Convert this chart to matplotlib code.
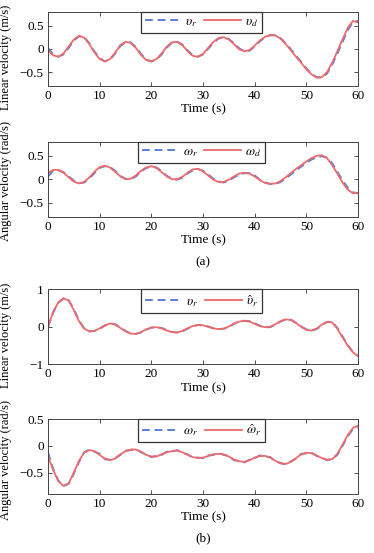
import numpy as np
import matplotlib
matplotlib.use('Agg')
from matplotlib import pyplot as plt

plt.rcParams['font.family'] = ['Liberation Serif', 'DejaVu Serif']
plt.rcParams['mathtext.fontset'] = 'stix'
plt.rcParams['axes.unicode_minus'] = True

t = np.arange(0, 61)

# (a) linear velocity
vd = [-0.03, -0.14, -0.17, -0.10, 0.05, 0.20, 0.28, 0.24, 0.10, -0.08,
      -0.22, -0.27, -0.22, -0.08, 0.08, 0.15, 0.13, 0.02, -0.13, -0.24,
      -0.27, -0.22, -0.10, 0.05, 0.14, 0.15, 0.08, -0.05, -0.15, -0.17,
      -0.11, 0.02, 0.15, 0.23, 0.25, 0.20, 0.10, -0.01, -0.05, -0.03,
      0.07, 0.18, 0.26, 0.30, 0.29, 0.22, 0.10, -0.03, -0.17, -0.30,
      -0.44, -0.55, -0.62, -0.61, -0.50, -0.30, -0.05, 0.20, 0.45, 0.60, 0.57]
vr = [0.02, -0.12, -0.17, -0.12, 0.02, 0.18, 0.27, 0.25, 0.12, -0.06,
      -0.20, -0.27, -0.23, -0.10, 0.06, 0.14, 0.14, 0.04, -0.11, -0.23,
      -0.27, -0.23, -0.12, 0.03, 0.13, 0.15, 0.09, -0.03, -0.14, -0.17,
      -0.12, 0.00, 0.13, 0.22, 0.25, 0.21, 0.12, 0.01, -0.05, -0.04,
      0.05, 0.16, 0.25, 0.29, 0.29, 0.23, 0.12, -0.01, -0.15, -0.28,
      -0.42, -0.54, -0.61, -0.62, -0.53, -0.34, -0.10, 0.15, 0.40, 0.58, 0.60]

# (a) angular velocity
wd = [0.13, 0.20, 0.20, 0.14, 0.04, -0.05, -0.09, -0.06, 0.04, 0.16,
      0.26, 0.29, 0.25, 0.16, 0.06, 0.00, 0.01, 0.08, 0.18, 0.25,
      0.28, 0.24, 0.15, 0.06, 0.00, 0.00, 0.05, 0.14, 0.21, 0.22,
      0.17, 0.08, -0.01, -0.06, -0.06, -0.01, 0.06, 0.12, 0.14, 0.12,
      0.06, -0.02, -0.08, -0.10, -0.09, -0.04, 0.04, 0.13, 0.22, 0.30,
      0.38, 0.45, 0.50, 0.51, 0.45, 0.30, 0.12, -0.07, -0.22, -0.30, -0.29]
wr = [0.06, 0.18, 0.19, 0.15, 0.06, -0.03, -0.08, -0.07, 0.02, 0.13,
      0.24, 0.28, 0.26, 0.18, 0.07, 0.01, 0.00, 0.06, 0.16, 0.24,
      0.27, 0.25, 0.17, 0.07, 0.01, -0.01, 0.03, 0.12, 0.19, 0.22,
      0.18, 0.10, 0.01, -0.05, -0.07, -0.03, 0.04, 0.10, 0.13, 0.13,
      0.08, -0.01, -0.07, -0.10, -0.10, -0.06, 0.02, 0.10, 0.19, 0.27,
      0.35, 0.42, 0.47, 0.49, 0.46, 0.34, 0.16, -0.03, -0.18, -0.28, -0.30]

# (b) linear velocity
vhat = [0.00, 0.40, 0.65, 0.76, 0.70, 0.45, 0.15, -0.05, -0.12, -0.11,
        -0.04, 0.04, 0.09, 0.06, -0.03, -0.12, -0.18, -0.19, -0.14, -0.07,
        -0.02, -0.01, -0.04, -0.10, -0.14, -0.15, -0.11, -0.04, 0.02, 0.05,
        0.04, 0.00, -0.04, -0.06, -0.05, 0.01, 0.09, 0.14, 0.16, 0.14,
        0.08, 0.02, -0.01, 0.00, 0.07, 0.15, 0.20, 0.18, 0.10, 0.00,
        -0.08, -0.10, -0.05, 0.06, 0.13, 0.12, -0.05, -0.28, -0.50, -0.68, -0.78]
vr_b = [0.00, 0.38, 0.64, 0.76, 0.71, 0.47, 0.17, -0.04, -0.12, -0.11,
        -0.05, 0.03, 0.09, 0.07, -0.02, -0.11, -0.18, -0.19, -0.15, -0.08,
        -0.02, -0.01, -0.03, -0.09, -0.14, -0.15, -0.12, -0.05, 0.01, 0.05,
        0.04, 0.01, -0.04, -0.06, -0.05, 0.00, 0.08, 0.14, 0.16, 0.15,
        0.09, 0.03, -0.01, -0.01, 0.06, 0.14, 0.20, 0.19, 0.11, 0.01,
        -0.07, -0.10, -0.06, 0.05, 0.13, 0.13, -0.03, -0.26, -0.48, -0.67, -0.78]

# (b) angular velocity
what = [-0.19, -0.45, -0.66, -0.75, -0.70, -0.50, -0.28, -0.13, -0.08, -0.10,
        -0.17, -0.24, -0.27, -0.24, -0.16, -0.10, -0.07, -0.07, -0.11, -0.17,
        -0.20, -0.20, -0.16, -0.12, -0.10, -0.09, -0.12, -0.17, -0.21, -0.23,
        -0.22, -0.19, -0.16, -0.15, -0.16, -0.20, -0.26, -0.29, -0.30, -0.27,
        -0.22, -0.19, -0.19, -0.22, -0.28, -0.33, -0.34, -0.30, -0.23, -0.16,
        -0.13, -0.14, -0.18, -0.23, -0.26, -0.25, -0.15, 0.02, 0.20, 0.33, 0.38]
wr_b = [-0.12, -0.43, -0.65, -0.75, -0.71, -0.52, -0.30, -0.12, -0.07, -0.11,
        -0.15, -0.25, -0.26, -0.23, -0.17, -0.09, -0.08, -0.06, -0.12, -0.16,
        -0.21, -0.19, -0.17, -0.11, -0.11, -0.08, -0.13, -0.16, -0.22, -0.22,
        -0.23, -0.18, -0.17, -0.13, -0.17, -0.19, -0.27, -0.28, -0.31, -0.26,
        -0.23, -0.18, -0.20, -0.21, -0.29, -0.32, -0.35, -0.29, -0.24, -0.15,
        -0.14, -0.13, -0.19, -0.22, -0.27, -0.24, -0.17, 0.00, 0.18, 0.31, 0.36]

blue = '#5a7dd6'
red = '#f06a6a'

fig = plt.figure(figsize=(3.74, 5.53), dpi=100)

panels = [
    ([0.1283, 0.8445, 0.829, 0.1344], vr, vd, r'$\upsilon_r$', r'$\upsilon_d$',
     'Linear velocity (m/s)', (-0.8, 0.8), [-0.5, 0, 0.5], 0.38),
    ([0.1283, 0.6081, 0.829, 0.1356], wr, wd, r'$\omega_r$', r'$\omega_d$',
     'Angular velocity (rad/s)', (-0.8, 0.8), [-0.5, 0, 0.5], 0.48),
    ([0.1283, 0.3412, 0.829, 0.1356], vr_b, vhat, r'$\upsilon_r$', r'$\hat{\upsilon}_r$',
     'Linear velocity (m/s)', (-1, 1), [-1, 0, 1], 0.38),
    ([0.1283, 0.1067, 0.829, 0.1356], wr_b, what, r'$\omega_r$', r'$\hat{\omega}_r$',
     'Angular velocity (rad/s)', (-0.9, 0.5), [-0.5, 0, 0.5], 0.46),
]

for rect, yb, yr, lb, lr, ylab, ylim, yt, ly in panels:
    ax = fig.add_axes(rect)
    ax.plot(t, yb, '--', color=blue, lw=1.4, dashes=(4, 2.5), label=lb)
    ax.plot(t, yr, '-', color=red, lw=1.3, label=lr)
    ax.set_xlim(0, 60)
    ax.set_ylim(*ylim)
    ax.set_xticks(np.arange(0, 61, 10))
    ax.set_yticks(yt)
    ax.set_yticklabels(['\u22120.5' if v == -0.5 else '\u22121' if v == -1 else
                        '0.5' if v == 0.5 else '0' if v == 0 else str(v) for v in yt])
    ax.tick_params(direction='in', top=True, right=True, length=3, width=0.6,
                   labelsize=9.5, colors='#333333', labelcolor='black', pad=3)
    for s in ax.spines.values():
        s.set_linewidth(0.7)
        s.set_color('#444444')
    ax.set_xlabel('Time (s)', fontsize=9.5, labelpad=1)
    ax.set_ylabel(ylab, fontsize=9)
    ax.yaxis.set_label_coords(-0.115, ly)
    leg = ax.legend(loc='upper center', ncol=2, fontsize=9.5, borderaxespad=0,
                    handlelength=2.8, handletextpad=0.3, columnspacing=0.5,
                    borderpad=0.3, fancybox=False, framealpha=1,
                    bbox_to_anchor=(0.495, 1.0))
    leg.get_frame().set_edgecolor('#333333')
    leg.get_frame().set_linewidth(0.9)

fig.text(0.5427, 1 - 262 / 553, '(a)', ha='center', va='center', fontsize=9.5)
fig.text(0.5427, 1 - 538 / 553, '(b)', ha='center', va='center', fontsize=9.5)

fig.savefig('out.png', dpi=100)
